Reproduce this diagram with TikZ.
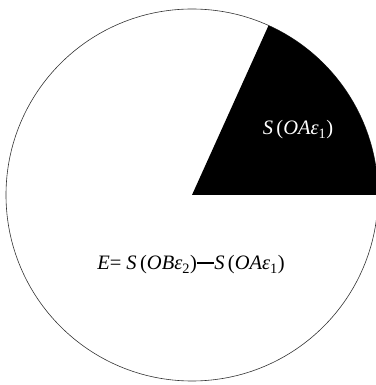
\documentclass[tikz,border=0pt]{standalone}
\usepackage{fontspec}
\setmainfont{Liberation Serif}
\usepackage{tikz}
\usetikzlibrary{positioning}

\begin{document}
\begin{tikzpicture}[
  x=1pt, y=1pt,
  disc/.style={draw=black!80, line width=0.6pt, fill=white},
  sector/.style={fill=black, draw=none},
  lbl/.style={font=\fontsize{20.5}{24}\selectfont, inner sep=0pt},
]
  \useasboundingbox (-192,-190) rectangle (183,195);
  \coordinate (O) at (0,0);
  \draw[disc] (O) circle (186);
  \fill[sector] (O) -- (0:186) arc (0:65.7:186) -- cycle;
  \node[lbl, text=white] (small) at (106,65) {\textit{S}\,(\textit{OAε}\textsubscript{1})};
  \node[lbl] (diff) at (-1,-70) {\textit{E}= \textit{S}\,(\textit{OBε}\textsubscript{2})\rule[0.3em]{0.85em}{0.07em}\textit{S}\,(\textit{OAε}\textsubscript{1})};
\end{tikzpicture}
\end{document}
